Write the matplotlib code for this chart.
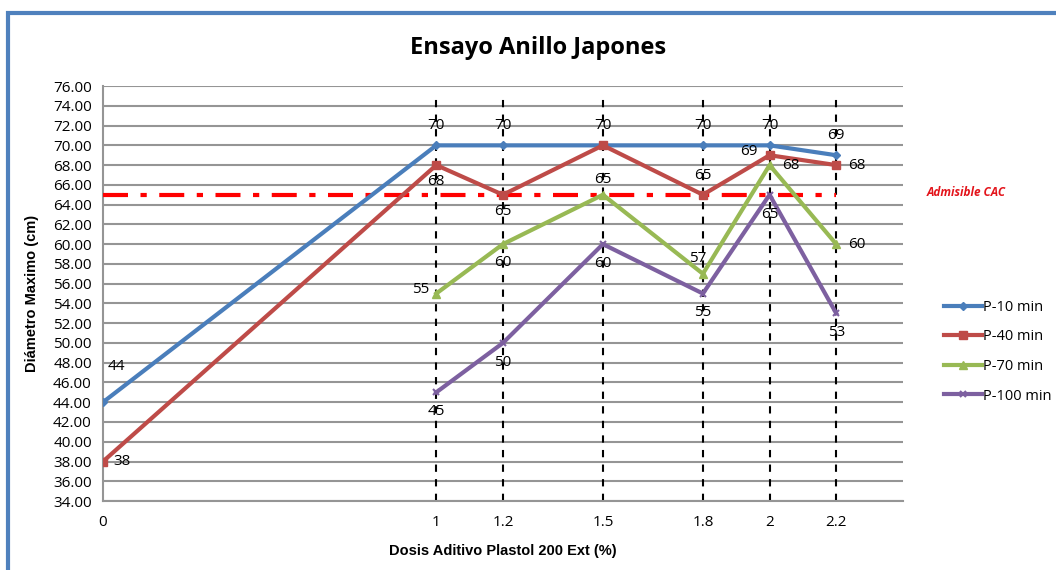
import numpy as np
import matplotlib.pyplot as plt
from matplotlib.patches import Rectangle

# Datos del ensayo
dosis = [0, 1, 1.2, 1.5, 1.8, 2, 2.2]
dosis_b = [1, 1.2, 1.5, 1.8, 2, 2.2]
p10 = [44, 70, 70, 70, 70, 70, 69]
p40 = [38, 68, 65, 70, 65, 69, 68]
p70 = [55, 60, 65, 57, 68, 60]
p100 = [45, 50, 60, 55, 65, 53]
admisible = 65
yticks = np.arange(34, 77, 2)

fig = plt.figure(figsize=(10.56, 5.70), dpi=100)
ax = fig.add_axes([0.0975, 0.121, 0.7575, 0.728])

ax.set_xlim(0, 2.4)
ax.set_ylim(34, 76)
ax.set_yticks(yticks)
ax.set_yticklabels(['%.2f' % v for v in yticks], fontsize=11, family='Open Sans')
ax.set_xticks(dosis)
ax.set_xticklabels(['0', '1', '1.2', '1.5', '1.8', '2', '2.2'], fontsize=11, family='Open Sans')
ax.tick_params(length=0, pad=8)
ax.tick_params(axis='x', pad=10)
ax.grid(axis='y', color='#959595', lw=1.5)
ax.set_axisbelow(True)
for s in ['top', 'right']:
    ax.spines[s].set_visible(False)
for s in ['left', 'bottom']:
    ax.spines[s].set_color('#959595')
    ax.spines[s].set_linewidth(1.5)

# líneas verticales por dosis
ax.vlines(dosis_b, 34, 75.3, colors='black', linestyles=(0, (3.5, 3.5)), lw=1.5, zorder=2)

# límite admisible
ax.plot([0, 2.2], [admisible, admisible], color='#ff0000', lw=3,
        linestyle=(0, (6, 3, 1.5, 3)), zorder=3)

azul, rojo, verde, morado = '#4a7ebb', '#be4b48', '#98b954', '#7d60a0'
ax.plot(dosis, p10, color=azul, lw=3, marker='D', ms=4, label='P-10 min', zorder=4)
ax.plot(dosis, p40, color=rojo, lw=3, marker='s', ms=6, label='P-40 min', zorder=4)
ax.plot(dosis_b, p70, color=verde, lw=3, marker='^', ms=6, label='P-70 min', zorder=4)
ax.plot(dosis_b, p100, color=morado, lw=3, marker='x', ms=5, mew=1.5, label='P-100 min', zorder=4)

# etiquetas de valores
def etiqueta(x, y, dx, dy):
    ax.annotate(str(y), (x, y), xytext=(dx, dy), textcoords='offset points',
                ha='center', va='center', fontsize=11, family='Open Sans', zorder=5)

for x, y in zip(dosis[1:], p10[1:]):
    etiqueta(x, y, 0, 14)
etiqueta(0, 44, 10, 26)
off40 = [(14, 0), (0, -12), (0, -12), (0, 14), (0, 14), (-15, 3), (15, 0)]
for (x, y), (dx, dy) in zip(zip(dosis, p40), off40):
    if x == 1.5:
        continue
    etiqueta(x, y, dx, dy)
off70 = [(-11, 3), (0, -13), (0, 11), (-4, 11), (15, 0), (15, 0)]
for (x, y), (dx, dy) in zip(zip(dosis_b, p70), off70):
    etiqueta(x, y, dx, dy)
for x, y in zip(dosis_b, p100):
    etiqueta(x, y, 0, -14)

ax.set_xlabel('Dosis Aditivo Plastol 200 Ext (%)', fontsize=10.5, fontweight='bold',
              family='Liberation Sans', labelpad=10)
ax.set_ylabel('Diámetro Maximo (cm)', fontsize=10.5, fontweight='bold',
              family='Liberation Sans', labelpad=10)
fig.text(0.51, 0.915, 'Ensayo Anillo Japones', ha='center', va='center',
         fontsize=17, fontweight='bold', family='Open Sans')
fig.text(0.915, 0.663, 'Admisible CAC', ha='center', va='center', color='#e3141b',
         fontsize=8.5, fontweight='bold', style='italic', family='Open Sans')

ax.legend(loc='center left', bbox_to_anchor=(1.035, 0.36), frameon=False,
          prop={'family': 'Open Sans', 'size': 10.5}, handlelength=2.6,
          labelspacing=1.0, handletextpad=0.1)

# marco exterior
fig.patches.append(Rectangle((8 / 1056, -0.1), 1.2, 1 - 13 / 570 + 0.1,
                             transform=fig.transFigure, fill=False,
                             edgecolor='#4f81bd', lw=3))

fig.savefig('out.png', dpi=100)
